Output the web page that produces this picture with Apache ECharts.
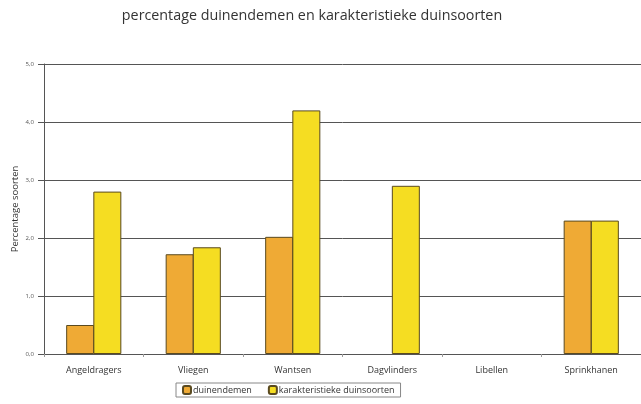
<!DOCTYPE html>
<html><head><meta charset="utf-8">
<script src="https://cdn.jsdelivr.net/npm/echarts@6/dist/echarts.min.js"></script>
<style>html,body{margin:0;padding:0;background:#fff}#c{width:641px;height:404px}</style>
</head><body><div id="c"></div>
<script>
var categories = ['Angeldragers','Vliegen','Wantsen','Dagvlinders','Libellen','Sprinkhanen'];
var duinendemen = [0.5, 1.72, 2.02, null, null, 2.3];
var karakteristiek = [2.8, 1.84, 4.2, 2.9, null, 2.3];
var seriesNames = ['duinendemen','karakteristieke duinsoorten'];

var chart = echarts.init(document.getElementById('c'), null, {renderer:'canvas'});
chart.setOption({
  animation:false,
  title:{text:'percentage duinendemen en karakteristieke duinsoorten',left:307,top:4,textAlign:'center',
    textStyle:{fontFamily:'Open Sans',fontSize:14.3,fontWeight:'normal',color:'#333'}},
  grid:{left:44,right:0,top:64,bottom:50,outerBoundsMode:'none',containLabel:false},
  legend:{data:seriesNames,left:176,top:383,itemWidth:8,itemHeight:8,itemGap:16,
    padding:[2,6,2,6],borderColor:'#888',borderWidth:1,
    textStyle:{fontFamily:'Open Sans',fontSize:9,color:'#333',padding:[0,0,0,-3]}},
  xAxis:{type:'category',data:categories,
    axisLine:{lineStyle:{color:'#555',width:1}},
    axisTick:{show:true,length:3,lineStyle:{color:'#999'}},
    axisLabel:{fontFamily:'Open Sans',fontSize:9,color:'#333',margin:12}},
  yAxis:{type:'value',min:0,max:5,interval:1,
    name:'Percentage soorten',nameLocation:'middle',nameGap:24,nameMoveOverlap:false,
    nameTextStyle:{fontFamily:'Open Sans',fontSize:9.5,color:'#333'},
    axisLine:{show:true,lineStyle:{color:'#555'}},
    axisTick:{show:true,length:6,lineStyle:{color:'#555'}},
    axisLabel:{fontFamily:'Open Sans',fontSize:6,color:'#555',margin:10,
      formatter:function(v){return v.toFixed(1).replace('.',',');}},
    splitLine:{lineStyle:{color:'#555',width:1}}},
  series:[
    {name:seriesNames[0],type:'bar',data:duinendemen,barWidth:28,barGap:'-3%',
     itemStyle:{color:'#EFAA35',borderColor:'#5a4a20',borderWidth:1}},
    {name:seriesNames[1],type:'bar',data:karakteristiek,barWidth:28,barGap:'-3%',
     itemStyle:{color:'#F5DD22',borderColor:'#5a4a20',borderWidth:1}}
  ]
});
</script></body></html>
